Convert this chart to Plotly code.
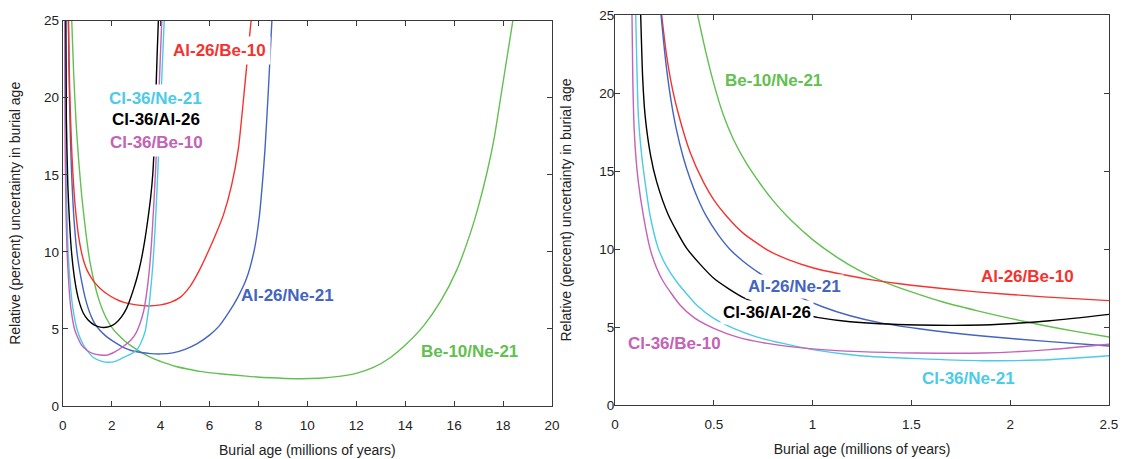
import plotly.graph_objects as go
from plotly.subplots import make_subplots

# ---------------- data: left panel (0-20 Myr) ----------------
L_al_be_x = [0.236, 0.26, 0.29, 0.32, 0.38, 0.447, 0.5, 0.565, 0.65, 0.77, 0.88, 1.0, 1.14, 1.3, 1.5, 1.83, 2.17, 2.5, 3.0, 3.5, 4.0, 4.4, 4.8, 5.2, 5.6, 6.0, 6.3, 6.57, 6.9, 7.18, 7.46, 7.7]
L_al_be_y = [25, 22.5, 20.3, 18.7, 16.2, 14.3, 13.15, 12.1, 11.0, 9.95, 9.3, 8.8, 8.4, 8.02, 7.68, 7.25, 6.93, 6.72, 6.56, 6.49, 6.56, 6.72, 7.05, 7.75, 8.85, 10.2, 11.3, 12.4, 14.3, 16.7, 21.06, 25]

L_al_ne_x = [0.233, 0.255, 0.28, 0.31, 0.345, 0.38, 0.42, 0.46, 0.52, 0.58, 0.65, 0.725, 0.83, 0.93, 1.05, 1.19, 1.35, 1.53, 1.7, 1.86, 2.2, 2.5, 2.8, 3.2, 3.6, 4.0, 4.5, 5.0, 5.5, 6.0, 6.4, 6.8, 7.14, 7.52, 7.84, 8.03, 8.16, 8.27, 8.41, 8.55]
L_al_ne_y = [25, 22.2, 19.8, 17.7, 15.9, 14.5, 13.2, 12.15, 10.95, 10.0, 9.2, 8.5, 7.65, 6.95, 6.3, 5.72, 5.25, 4.9, 4.63, 4.42, 4.06, 3.78, 3.6, 3.47, 3.4, 3.38, 3.45, 3.68, 4.05, 4.6, 5.2, 6.1, 7.0, 8.3, 10.2, 12.2, 14.4, 16.7, 20.6, 25]

L_be_ne_x = [0.37, 0.45, 0.55, 0.65, 0.78, 0.95, 1.12, 1.3, 1.46, 1.65, 1.85, 2.05, 2.28, 2.55, 2.8, 3.3, 3.78, 4.2, 4.59, 5.1, 5.6, 6.5, 7.5, 8.5, 9.5, 10.5, 11.3, 12.0, 12.7, 13.4, 14.07, 14.75, 15.43, 16.1, 16.66, 17.0, 17.35, 17.65, 17.9, 18.15, 18.4]
L_be_ne_y = [25, 21.5, 18.3, 16, 13.6, 11.2, 9.3, 7.95, 7.0, 6.15, 5.5, 5.0, 4.6, 4.2, 3.9, 3.4, 3.02, 2.78, 2.58, 2.4, 2.25, 2.08, 1.94, 1.83, 1.77, 1.8, 1.92, 2.12, 2.5, 3.15, 4.05, 5.2, 6.75, 8.8, 11.2, 13.0, 15.2, 17.5, 20.0, 22.5, 25]

L_cl_ne_x = [0.1, 0.12, 0.15, 0.18, 0.22, 0.31, 0.41, 0.6, 0.85, 1.24, 1.6, 1.87, 2.15, 2.5, 2.8, 3.03, 3.2, 3.37, 3.45, 3.52, 3.6, 3.68, 3.77, 3.86, 3.95, 4.05, 4.15]
L_cl_ne_y = [25, 18.6, 14.3, 12.2, 10, 7.9, 6.4, 4.9, 3.95, 3.16, 2.9, 2.84, 2.9, 3.16, 3.38, 3.64, 4.1, 4.85, 5.6, 6.4, 7.6, 9.05, 11.3, 14.2, 17.5, 21.3, 25]

L_cl_al_x = [0.13, 0.15, 0.21, 0.27, 0.36, 0.5, 0.65, 0.85, 1.03, 1.3, 1.6, 1.9, 2.15, 2.41, 2.6, 2.75, 2.9, 3.05, 3.2, 3.35, 3.48, 3.6, 3.68, 3.75, 3.81, 3.86, 3.91]
L_cl_al_y = [25, 18.6, 14.3, 12.2, 10, 8.1, 6.9, 6.0, 5.6, 5.25, 5.1, 5.15, 5.35, 5.8, 6.3, 6.9, 7.6, 8.4, 9.4, 10.7, 12.1, 13.6, 15.0, 17.2, 20.3, 22.8, 25]

L_cl_be_x = [0.086, 0.09, 0.095, 0.105, 0.12, 0.14, 0.18, 0.25, 0.33, 0.5, 0.77, 1.0, 1.24, 1.53, 1.81, 2.15, 2.5, 2.8, 3.0, 3.15, 3.3, 3.42, 3.54, 3.63, 3.71, 3.8, 3.92, 4.05]
L_cl_be_y = [25, 21, 18.3, 16, 14.3, 12.2, 10, 7.9, 6.4, 4.9, 3.95, 3.6, 3.4, 3.31, 3.3, 3.53, 3.89, 4.3, 4.75, 5.3, 6.1, 7.2, 8.8, 10.6, 12.7, 15.4, 19.8, 25]

# ---------------- data: right panel (0-2.5 Myr) ----------------
R_al_be_x = [0.236, 0.26, 0.29, 0.32, 0.38, 0.447, 0.5, 0.565, 0.65, 0.77, 0.88, 1.0, 1.14, 1.3, 1.5, 1.83, 2.17, 2.5]
R_al_be_y = [25, 22.5, 20.3, 18.7, 16.2, 14.3, 13.15, 12.1, 11.0, 9.95, 9.3, 8.8, 8.4, 8.02, 7.68, 7.25, 6.93, 6.69]

R_al_ne_x = [0.233, 0.255, 0.28, 0.31, 0.345, 0.38, 0.42, 0.46, 0.52, 0.58, 0.65, 0.725, 0.83, 0.93, 1.05, 1.19, 1.35, 1.53, 1.7, 1.86, 2.2, 2.5]
R_al_ne_y = [25, 22.2, 19.8, 17.7, 15.9, 14.5, 13.2, 12.15, 10.95, 10.0, 9.2, 8.5, 7.65, 6.95, 6.3, 5.72, 5.25, 4.9, 4.63, 4.42, 4.06, 3.78]

R_be_ne_x = [0.418, 0.46, 0.5, 0.548, 0.6, 0.66, 0.734, 0.8, 0.886, 1.0, 1.12, 1.24, 1.37, 1.5, 1.66, 1.83, 2.0, 2.17, 2.33, 2.5]
R_be_ne_y = [25, 22.6, 20.6, 18.6, 17.0, 15.6, 14.2, 13.1, 11.9, 10.6, 9.5, 8.6, 7.85, 7.25, 6.6, 6.05, 5.55, 5.1, 4.72, 4.36]

R_cl_ne_x = [0.105, 0.118, 0.135, 0.152, 0.177, 0.219, 0.26, 0.312, 0.413, 0.5, 0.6, 0.72, 0.85, 1.0, 1.24, 1.53, 1.86, 2.15, 2.5]
R_cl_ne_y = [25, 18.6, 16, 14.3, 12.18, 10.04, 8.9, 7.9, 6.41, 5.55, 4.91, 4.35, 3.95, 3.55, 3.16, 2.97, 2.84, 2.88, 3.16]

R_cl_al_x = [0.13, 0.14, 0.152, 0.18, 0.211, 0.27, 0.363, 0.5, 0.65, 0.8, 1.03, 1.19, 1.53, 1.86, 2.2, 2.5]
R_cl_al_y = [25, 21, 18.6, 16, 14.3, 12.18, 10.04, 8.12, 6.88, 6.2, 5.6, 5.34, 5.13, 5.13, 5.4, 5.81]

R_cl_be_x = [0.086, 0.09, 0.095, 0.105, 0.118, 0.143, 0.177, 0.21, 0.245, 0.329, 0.4, 0.5, 0.62, 0.77, 1.0, 1.24, 1.53, 1.86, 2.2, 2.5]
R_cl_be_y = [25, 21, 18.3, 16, 14.3, 12.18, 10.04, 8.8, 7.9, 6.41, 5.6, 4.91, 4.35, 3.95, 3.6, 3.42, 3.33, 3.33, 3.55, 3.89]

# tick labels
L_xticks = [0, 2, 4, 6, 8, 10, 12, 14, 16, 18, 20]
R_xticks = [0, 0.5, 1, 1.5, 2, 2.5]
R_xticktext = ["0", "0.5", "1", "1.5", "2", "2.5"]
Y_ticks = [0, 5, 10, 15, 20, 25]

# colours
C_RED = "#f5332e"
C_BLUE = "#4464c2"
C_GREEN = "#62c050"
C_CYAN = "#4ccbe8"
C_BLACK = "#000000"
C_MAG = "#c462b6"

fig = make_subplots(rows=1, cols=2)

series_left = [
    (L_be_ne_x, L_be_ne_y, C_GREEN, "Be-10/Ne-21"),
    (L_al_ne_x, L_al_ne_y, C_BLUE, "Al-26/Ne-21"),
    (L_al_be_x, L_al_be_y, C_RED, "Al-26/Be-10"),
    (L_cl_ne_x, L_cl_ne_y, C_CYAN, "Cl-36/Ne-21"),
    (L_cl_be_x, L_cl_be_y, C_MAG, "Cl-36/Be-10"),
    (L_cl_al_x, L_cl_al_y, C_BLACK, "Cl-36/Al-26"),
]
series_right = [
    (R_be_ne_x, R_be_ne_y, C_GREEN, "Be-10/Ne-21"),
    (R_al_be_x, R_al_be_y, C_RED, "Al-26/Be-10"),
    (R_al_ne_x, R_al_ne_y, C_BLUE, "Al-26/Ne-21"),
    (R_cl_al_x, R_cl_al_y, C_BLACK, "Cl-36/Al-26"),
    (R_cl_ne_x, R_cl_ne_y, C_CYAN, "Cl-36/Ne-21"),
    (R_cl_be_x, R_cl_be_y, C_MAG, "Cl-36/Be-10"),
]
for col, series in ((1, series_left), (2, series_right)):
    for xs, ys, c, name in series:
        fig.add_trace(go.Scatter(x=xs, y=ys, mode="lines", name=name,
                                 line=dict(color=c, width=1.4, shape="spline", smoothing=0.6),
                                 showlegend=False, hoverinfo="skip"), row=1, col=col)

FONT = "Arial, Liberation Sans, Helvetica, sans-serif"


def label(text, x, y, color, xref, yref, bg=False, pad=4):
    fig.add_annotation(text="<b>%s</b>" % text, x=x, y=y, xref=xref, yref=yref,
                       showarrow=False, font=dict(family=FONT, size=17, color=color),
                       bgcolor="white" if bg else "rgba(0,0,0,0)", borderpad=pad,
                       xanchor="center", yanchor="middle")


# left panel labels
label("Al-26/Be-10", 6.41, 23.05, C_RED, "x", "y", bg=True, pad=4)
label("Cl-36/Ne-21", 3.81, 19.98, C_CYAN, "x", "y", bg=True, pad=4)
label("Cl-36/Al-26", 3.83, 18.57, C_BLACK, "x", "y", bg=True, pad=4)
label("Cl-36/Be-10", 3.82, 17.08, C_MAG, "x", "y", bg=True, pad=4)
label("Al-26/Ne-21", 9.17, 7.2, C_BLUE, "x", "y")
label("Be-10/Ne-21", 16.63, 3.53, C_GREEN, "x", "y")
# right panel labels
label("Be-10/Ne-21", 0.804, 20.8, C_GREEN, "x2", "y2")
label("Al-26/Ne-21", 0.908, 7.61, C_BLUE, "x2", "y2", bg=True, pad=2)
label("Cl-36/Al-26", 0.769, 5.96, C_BLACK, "x2", "y2", bg=True, pad=2)
label("Cl-36/Be-10", 0.30, 3.92, C_MAG, "x2", "y2")
label("Al-26/Be-10", 2.088, 8.22, C_RED, "x2", "y2")
label("Cl-36/Ne-21", 1.788, 1.71, C_CYAN, "x2", "y2")

axis_common = dict(showgrid=False, zeroline=False, showline=True, linecolor="#3a3a3a",
                   linewidth=1, mirror="ticks", ticks="inside", ticklen=5, tickcolor="#3a3a3a",
                   automargin=False, ticklabeloverflow="allow",
                   tickfont=dict(family=FONT, size=13.5, color="#222"))
title_font = dict(family=FONT, size=14, color="#222")

fig.update_xaxes(axis_common)
fig.update_yaxes(axis_common)

W, H = 1122, 459
fig.update_layout(
    width=W, height=H,
    margin=dict(l=0, r=0, t=0, b=0),
    paper_bgcolor="white", plot_bgcolor="white",
    xaxis=dict(domain=[62.7 / W, 552 / W], range=[0, 20], tickvals=L_xticks,
               ticklabelstandoff=7,
               title=dict(text="Burial age (millions of years)", font=title_font, standoff=12)),
    yaxis=dict(domain=[(H - 406) / H, (H - 20.7) / H], range=[0, 25], tickvals=Y_ticks,
               title=dict(text="Relative (percent) uncertainty in burial age", font=title_font, standoff=20)),
    xaxis2=dict(domain=[615 / W, 1109 / W], range=[0, 2.5], tickvals=R_xticks, ticktext=R_xticktext,
                ticklabelstandoff=7,
                title=dict(text="Burial age (millions of years)", font=title_font, standoff=12)),
    yaxis2=dict(domain=[(H - 405) / H, (H - 15) / H], range=[0, 25], tickvals=Y_ticks,
                ticklabelstandoff=-3,
                title=dict(text="Relative (percent) uncertainty in burial age", font=title_font, standoff=24)),
)

# remove the browser's default body margin so the figure fills the window exactly
fig.write_html("out.html", config={"displayModeBar": False},
               post_script="document.body.style.margin='0';document.body.style.overflow='hidden';")
